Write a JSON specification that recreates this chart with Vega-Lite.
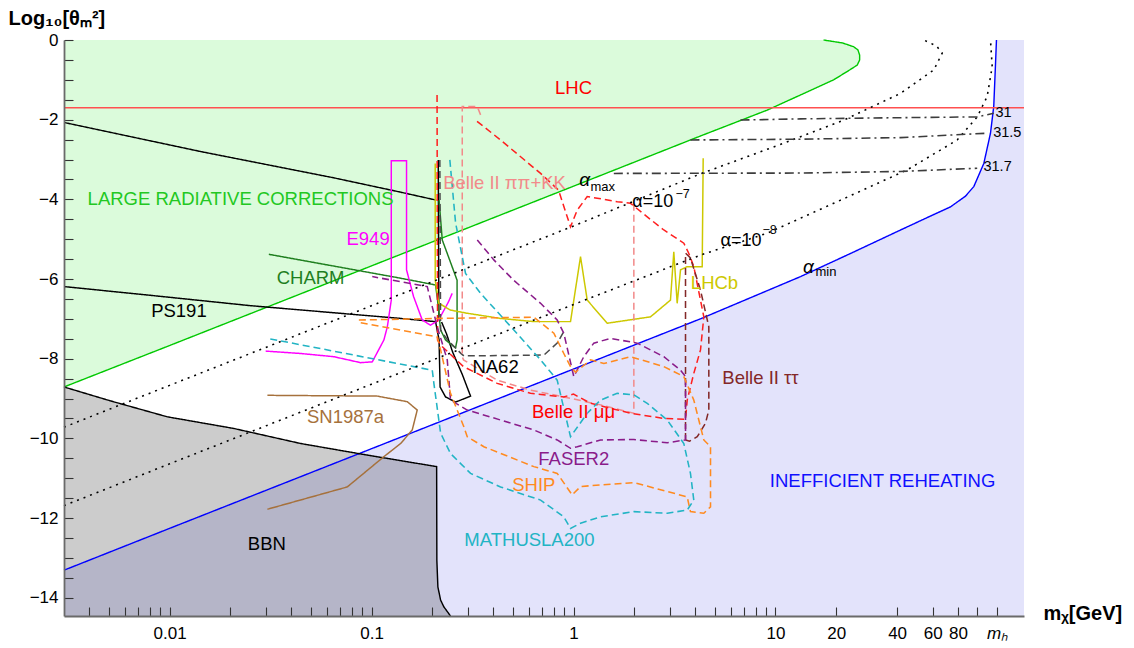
{
  "$schema": "https://vega.github.io/schema/vega-lite/v6.json",
  "width": 960,
  "height": 576,
  "autosize": "none",
  "padding": {"left": 64, "top": 40, "right": 110, "bottom": 32},
  "background": "white",
  "config": {
    "view": {"stroke": null},
    "axis": {
      "grid": false,
      "domainColor": "#6a6a6a",
      "domainWidth": 1.8,
      "tickColor": "#333333",
      "tickWidth": 1.1,
      "labelFont": "Liberation Sans",
      "labelFontSize": 17,
      "labelColor": "black",
      "titleFont": "Liberation Sans",
      "titleFontSize": 20,
      "titleFontWeight": "bold",
      "titleColor": "black"
    }
  },
  "datasets": {
    "curves": [
      {"s": "amax", "i": 0, "m": 0.003, "y": -8.71},
      {"s": "amax", "i": 1, "m": 0.01, "y": -7.67},
      {"s": "amax", "i": 2, "m": 0.1, "y": -5.67},
      {"s": "amax", "i": 3, "m": 1, "y": -3.67},
      {"s": "amax", "i": 4, "m": 4.25, "y": -2.41},
      {"s": "amax", "i": 5, "m": 9.1, "y": -1.76},
      {"s": "amax", "i": 6, "m": 13.3, "y": -1.38},
      {"s": "amax", "i": 7, "m": 19.4, "y": -1.0},
      {"s": "amax", "i": 8, "m": 23.0, "y": -0.77},
      {"s": "amax", "i": 9, "m": 25.4, "y": -0.63},
      {"s": "amax", "i": 10, "m": 26.1, "y": -0.5},
      {"s": "amax", "i": 11, "m": 26.1, "y": -0.38},
      {"s": "amax", "i": 12, "m": 25.6, "y": -0.25},
      {"s": "amax", "i": 13, "m": 24.4, "y": -0.17},
      {"s": "amax", "i": 14, "m": 21.5, "y": -0.075},
      {"s": "amax", "i": 15, "m": 17.3, "y": 0},

      {"s": "amin", "i": 0, "m": 0.003, "y": -13.31},
      {"s": "amin", "i": 1, "m": 0.01, "y": -12.26},
      {"s": "amin", "i": 2, "m": 0.1, "y": -10.26},
      {"s": "amin", "i": 3, "m": 1, "y": -8.26},
      {"s": "amin", "i": 4, "m": 4.25, "y": -7.0},
      {"s": "amin", "i": 5, "m": 13.3, "y": -5.94},
      {"s": "amin", "i": 6, "m": 23.5, "y": -5.36},
      {"s": "amin", "i": 7, "m": 41.6, "y": -4.77},
      {"s": "amin", "i": 8, "m": 58.5, "y": -4.42},
      {"s": "amin", "i": 9, "m": 73.5, "y": -4.19},
      {"s": "amin", "i": 10, "m": 87.2, "y": -3.92},
      {"s": "amin", "i": 11, "m": 95.9, "y": -3.68},
      {"s": "amin", "i": 12, "m": 107.5, "y": -3.1},
      {"s": "amin", "i": 13, "m": 116, "y": -2.34},
      {"s": "amin", "i": 14, "m": 120.4, "y": -1.67},
      {"s": "amin", "i": 15, "m": 122.7, "y": -0.67},
      {"s": "amin", "i": 16, "m": 124.2, "y": 0},
      {"s": "rh", "i": 0, "m": 170, "y": 0},

      {"s": "BBN", "i": 0, "m": 0.003, "y": -8.71},
      {"s": "BBN", "i": 1, "m": 0.0051, "y": -9.06},
      {"s": "BBN", "i": 2, "m": 0.00975, "y": -9.46},
      {"s": "BBN", "i": 3, "m": 0.0207, "y": -9.75},
      {"s": "BBN", "i": 4, "m": 0.0446, "y": -10.13},
      {"s": "BBN", "i": 5, "m": 0.0952, "y": -10.42},
      {"s": "BBN", "i": 6, "m": 0.21, "y": -10.71},
      {"s": "BBN", "i": 7, "m": 0.2105, "y": -13.06},
      {"s": "BBN", "i": 8, "m": 0.213, "y": -13.73},
      {"s": "BBN", "i": 9, "m": 0.2197, "y": -14.06},
      {"s": "BBN", "i": 10, "m": 0.228, "y": -14.23},
      {"s": "BBN", "i": 11, "m": 0.246, "y": -14.46},

      {"s": "LHC", "i": 0, "m": 0.003, "y": -1.7},
      {"s": "LHC", "i": 1, "m": 170, "y": -1.7},

      {"s": "blk", "i": 0, "m": 0.003, "y": -2.07},
      {"s": "blk", "i": 1, "m": 0.01423, "y": -2.8},
      {"s": "blk", "i": 2, "m": 0.065, "y": -3.46},
      {"s": "blk", "i": 3, "m": 0.1393, "y": -3.82},
      {"s": "blk", "i": 4, "m": 0.209, "y": -4.02},
      {"s": "blkV", "i": 0, "m": 0.2139, "y": -3.01},
      {"s": "blkV", "i": 1, "m": 0.2154, "y": -7.03},

      {"s": "PS191", "i": 0, "m": 0.003, "y": -6.19},
      {"s": "PS191", "i": 1, "m": 0.00805, "y": -6.41},
      {"s": "PS191", "i": 2, "m": 0.0252, "y": -6.67},
      {"s": "PS191", "i": 3, "m": 0.1393, "y": -6.99},
      {"s": "PS191", "i": 4, "m": 0.2074, "y": -7.07},
      {"s": "PS191", "i": 5, "m": 0.2159, "y": -7.53},
      {"s": "PS191", "i": 6, "m": 0.2184, "y": -8.71},
      {"s": "PS191", "i": 7, "m": 0.2324, "y": -8.96},
      {"s": "PS191", "i": 8, "m": 0.2606, "y": -9.09},
      {"s": "PS191", "i": 9, "m": 0.3091, "y": -8.94},
      {"s": "PS191", "i": 10, "m": 0.282, "y": -8.41},
      {"s": "PS191", "i": 11, "m": 0.2518, "y": -7.83},
      {"s": "PS191", "i": 12, "m": 0.2352, "y": -7.38},
      {"s": "PS191", "i": 13, "m": 0.2222, "y": -7.08},

      {"s": "CHARM", "i": 0, "m": 0.031, "y": -5.38},
      {"s": "CHARM", "i": 1, "m": 0.1393, "y": -5.98},
      {"s": "CHARM", "i": 2, "m": 0.2074, "y": -6.15},
      {"s": "CHARM", "i": 3, "m": 0.2122, "y": -6.53},
      {"s": "CHARM", "i": 4, "m": 0.2197, "y": -7.28},
      {"s": "CHARM", "i": 5, "m": 0.2324, "y": -7.53},
      {"s": "CHARM", "i": 6, "m": 0.2606, "y": -7.73},
      {"s": "CHARM", "i": 7, "m": 0.2651, "y": -7.53},
      {"s": "CHARM", "i": 8, "m": 0.2651, "y": -6.03},
      {"s": "CHARM", "i": 9, "m": 0.2239, "y": -5.02},
      {"s": "CHARM", "i": 10, "m": 0.2159, "y": -4.02},

      {"s": "E949", "i": 0, "m": 0.0299, "y": -7.81},
      {"s": "E949", "i": 1, "m": 0.0446, "y": -7.87},
      {"s": "E949", "i": 2, "m": 0.065, "y": -7.95},
      {"s": "E949", "i": 3, "m": 0.0882, "y": -8.1},
      {"s": "E949", "i": 4, "m": 0.1008, "y": -8.08},
      {"s": "E949", "i": 5, "m": 0.1151, "y": -7.53},
      {"s": "E949", "i": 6, "m": 0.1197, "y": -7.2},
      {"s": "E949", "i": 7, "m": 0.1252, "y": -6.53},
      {"s": "E949", "i": 8, "m": 0.1252, "y": -3.03},
      {"s": "E949", "i": 9, "m": 0.149, "y": -3.03},
      {"s": "E949", "i": 10, "m": 0.149, "y": -5.77},
      {"s": "E949", "i": 11, "m": 0.1614, "y": -6.44},
      {"s": "E949", "i": 12, "m": 0.1782, "y": -7.03},
      {"s": "E949", "i": 13, "m": 0.1959, "y": -7.16},
      {"s": "E949", "i": 14, "m": 0.2147, "y": -7.03},
      {"s": "E949", "i": 15, "m": 0.2406, "y": -6.57},
      {"s": "E949", "i": 16, "m": 0.2508, "y": -6.36},

      {"s": "SN1987a", "i": 0, "m": 0.0305, "y": -8.92},
      {"s": "SN1987a", "i": 1, "m": 0.1067, "y": -8.94},
      {"s": "SN1987a", "i": 2, "m": 0.1503, "y": -9.08},
      {"s": "SN1987a", "i": 3, "m": 0.1683, "y": -9.29},
      {"s": "SN1987a", "i": 4, "m": 0.159, "y": -9.79},
      {"s": "SN1987a", "i": 5, "m": 0.1393, "y": -10.13},
      {"s": "SN1987a", "i": 6, "m": 0.1151, "y": -10.46},
      {"s": "SN1987a", "i": 7, "m": 0.0758, "y": -11.22},
      {"s": "SN1987a", "i": 8, "m": 0.0305, "y": -11.78},

      {"s": "LHCb", "i": 0, "m": 0.2066, "y": -3.1},
      {"s": "LHCb", "i": 1, "m": 0.2066, "y": -6.03},
      {"s": "LHCb", "i": 2, "m": 0.2154, "y": -6.61},
      {"s": "LHCb", "i": 3, "m": 0.246, "y": -6.78},
      {"s": "LHCb", "i": 4, "m": 0.2977, "y": -6.86},
      {"s": "LHCb", "i": 5, "m": 0.435, "y": -6.99},
      {"s": "LHCb", "i": 6, "m": 0.636, "y": -7.07},
      {"s": "LHCb", "i": 7, "m": 0.966, "y": -7.07},
      {"s": "LHCb", "i": 8, "m": 1.083, "y": -5.44},
      {"s": "LHCb", "i": 9, "m": 1.169, "y": -6.53},
      {"s": "LHCb", "i": 10, "m": 1.468, "y": -7.11},
      {"s": "LHCb", "i": 11, "m": 2.405, "y": -6.95},
      {"s": "LHCb", "i": 12, "m": 3.02, "y": -6.53},
      {"s": "LHCb", "i": 13, "m": 3.137, "y": -5.32},
      {"s": "LHCb", "i": 14, "m": 3.26, "y": -6.61},
      {"s": "LHCb", "i": 15, "m": 3.387, "y": -5.77},
      {"s": "LHCb", "i": 16, "m": 3.655, "y": -5.69},
      {"s": "LHCb", "i": 17, "m": 4.336, "y": -5.69},
      {"s": "LHCb", "i": 18, "m": 4.385, "y": -2.97},

      {"s": "NA62", "i": 0, "m": 0.2178, "y": -3.01},
      {"s": "NA62", "i": 1, "m": 0.2197, "y": -7.28},
      {"s": "NA62", "i": 2, "m": 0.2378, "y": -7.53},
      {"s": "NA62", "i": 3, "m": 0.276, "y": -7.86},
      {"s": "NA62", "i": 4, "m": 0.2864, "y": -7.93},
      {"s": "NA62", "i": 5, "m": 0.713, "y": -7.91},
      {"s": "NA62", "i": 6, "m": 0.83, "y": -7.61},
      {"s": "NA62", "i": 7, "m": 0.895, "y": -7.32},

      {"s": "pipi", "i": 0, "m": 0.3466, "y": -1.88},
      {"s": "pipi", "i": 1, "m": 0.3337, "y": -1.67},
      {"s": "pipi", "i": 2, "m": 0.2812, "y": -1.67},
      {"s": "pipi", "i": 3, "m": 0.2812, "y": -7.95},
      {"s": "pipi", "i": 4, "m": 0.2853, "y": -8.03},
      {"s": "pipi", "i": 5, "m": 0.419, "y": -8.54},
      {"s": "pipi", "i": 6, "m": 0.6125, "y": -8.79},
      {"s": "pipi", "i": 7, "m": 0.895, "y": -8.96},
      {"s": "pipi", "i": 8, "m": 1.36, "y": -9.16},
      {"s": "pipi", "i": 9, "m": 1.989, "y": -9.37},
      {"s": "pipi", "i": 10, "m": 1.989, "y": -4.1},

      {"s": "mumu", "i": 0, "m": 0.211, "y": -1.38},
      {"s": "mumu", "i": 1, "m": 0.2122, "y": -7.53},
      {"s": "mumu", "i": 2, "m": 0.2197, "y": -7.66},
      {"s": "mumu", "i": 3, "m": 0.2853, "y": -8.2},
      {"s": "mumu", "i": 4, "m": 0.419, "y": -8.62},
      {"s": "mumu", "i": 5, "m": 0.6125, "y": -8.87},
      {"s": "mumu", "i": 6, "m": 0.895, "y": -8.96},
      {"s": "mumu", "i": 7, "m": 1.0, "y": -8.89},
      {"s": "mumu", "i": 8, "m": 1.214, "y": -9.12},
      {"s": "mumu", "i": 9, "m": 1.915, "y": -9.37},
      {"s": "mumu", "i": 10, "m": 2.8, "y": -9.5},
      {"s": "mumu", "i": 11, "m": 3.585, "y": -9.52},
      {"s": "mumu", "i": 12, "m": 3.655, "y": -9.04},
      {"s": "mumu", "i": 13, "m": 3.94, "y": -8.37},
      {"s": "mumu", "i": 14, "m": 4.253, "y": -7.78},
      {"s": "mumu", "i": 15, "m": 4.417, "y": -6.95},
      {"s": "mumu", "i": 16, "m": 3.94, "y": -5.69},
      {"s": "mumu", "i": 17, "m": 3.723, "y": -5.36},
      {"s": "mumu", "i": 18, "m": 3.516, "y": -5.1},
      {"s": "mumu", "i": 19, "m": 2.8, "y": -4.77},
      {"s": "mumu", "i": 20, "m": 2.317, "y": -4.44},
      {"s": "mumu", "i": 21, "m": 1.915, "y": -4.1},
      {"s": "mumu", "i": 22, "m": 1.646, "y": -4.06},
      {"s": "mumu", "i": 23, "m": 1.31, "y": -3.97},
      {"s": "mumu", "i": 24, "m": 1.169, "y": -3.93},
      {"s": "mumu", "i": 25, "m": 1.043, "y": -4.27},
      {"s": "mumu", "i": 26, "m": 0.966, "y": -4.69},
      {"s": "mumu", "i": 27, "m": 0.843, "y": -3.77},
      {"s": "mumu", "i": 28, "m": 0.687, "y": -3.35},
      {"s": "mumu", "i": 29, "m": 0.435, "y": -2.51},
      {"s": "mumu", "i": 30, "m": 0.327, "y": -2.01},

      {"s": "tautau", "i": 0, "m": 3.585, "y": -10.04},
      {"s": "tautau", "i": 1, "m": 3.585, "y": -5.35},
      {"s": "tautau", "i": 2, "m": 3.793, "y": -5.47},
      {"s": "tautau", "i": 3, "m": 4.253, "y": -6.28},
      {"s": "tautau", "i": 4, "m": 4.676, "y": -7.2},
      {"s": "tautau", "i": 5, "m": 4.676, "y": -9.29},
      {"s": "tautau", "i": 6, "m": 4.503, "y": -9.62},
      {"s": "tautau", "i": 7, "m": 4.097, "y": -9.96},
      {"s": "tautau", "i": 8, "m": 3.752, "y": -10.07},
      {"s": "tautau", "i": 9, "m": 3.585, "y": -10.04},

      {"s": "FASER2", "i": 0, "m": 0.3337, "y": -5.02},
      {"s": "FASER2", "i": 1, "m": 0.4031, "y": -5.52},
      {"s": "FASER2", "i": 2, "m": 0.5047, "y": -6.03},
      {"s": "FASER2", "i": 3, "m": 0.687, "y": -6.61},
      {"s": "FASER2", "i": 4, "m": 0.83, "y": -7.03},
      {"s": "FASER2", "i": 5, "m": 0.895, "y": -7.36},
      {"s": "FASER2", "i": 6, "m": 1.003, "y": -8.45},
      {"s": "FASER2", "i": 7, "m": 1.124, "y": -7.95},
      {"s": "FASER2", "i": 8, "m": 1.26, "y": -7.61},
      {"s": "FASER2", "i": 9, "m": 1.524, "y": -7.49},
      {"s": "FASER2", "i": 10, "m": 2.066, "y": -7.61},
      {"s": "FASER2", "i": 11, "m": 2.8, "y": -7.95},
      {"s": "FASER2", "i": 12, "m": 3.387, "y": -8.29},
      {"s": "FASER2", "i": 13, "m": 3.585, "y": -8.45},
      {"s": "FASER2", "i": 14, "m": 3.585, "y": -10.04},
      {"s": "FASER2", "i": 15, "m": 2.911, "y": -10.11},
      {"s": "FASER2", "i": 16, "m": 1.989, "y": -10.03},
      {"s": "FASER2", "i": 17, "m": 1.36, "y": -10.04},
      {"s": "FASER2", "i": 18, "m": 1.043, "y": -10.21},
      {"s": "FASER2", "i": 19, "m": 0.966, "y": -10.25},
      {"s": "FASER2", "i": 20, "m": 0.83, "y": -10.04},
      {"s": "FASER2", "i": 21, "m": 0.636, "y": -9.79},
      {"s": "FASER2", "i": 22, "m": 0.435, "y": -9.54},
      {"s": "FASER2", "i": 23, "m": 0.2977, "y": -9.29},
      {"s": "FASER2", "i": 24, "m": 0.246, "y": -9.04},
      {"s": "FASER2", "i": 25, "m": 0.237, "y": -8.03},
      {"s": "FASER2", "i": 26, "m": 0.2114, "y": -7.2},
      {"s": "FASER2", "i": 27, "m": 0.1998, "y": -6.7},
      {"s": "FASER2", "i": 28, "m": 0.1887, "y": -6.19},
      {"s": "FASER2", "i": 29, "m": 0.1008, "y": -5.94},

      {"s": "SHIP", "i": 0, "m": 0.0865, "y": -7.03},
      {"s": "SHIP", "i": 1, "m": 0.2114, "y": -6.99},
      {"s": "SHIP", "i": 2, "m": 0.636, "y": -6.96},
      {"s": "SHIP", "i": 3, "m": 0.799, "y": -7.36},
      {"s": "SHIP", "i": 4, "m": 0.895, "y": -7.87},
      {"s": "SHIP", "i": 5, "m": 0.966, "y": -8.2},
      {"s": "SHIP", "i": 6, "m": 1.023, "y": -8.34},
      {"s": "SHIP", "i": 7, "m": 1.214, "y": -8.03},
      {"s": "SHIP", "i": 8, "m": 1.413, "y": -8.12},
      {"s": "SHIP", "i": 9, "m": 1.915, "y": -7.95},
      {"s": "SHIP", "i": 10, "m": 2.8, "y": -8.2},
      {"s": "SHIP", "i": 11, "m": 3.516, "y": -8.45},
      {"s": "SHIP", "i": 12, "m": 3.94, "y": -9.04},
      {"s": "SHIP", "i": 13, "m": 4.417, "y": -10.04},
      {"s": "SHIP", "i": 14, "m": 4.767, "y": -10.21},
      {"s": "SHIP", "i": 15, "m": 4.767, "y": -11.72},
      {"s": "SHIP", "i": 16, "m": 4.417, "y": -11.88},
      {"s": "SHIP", "i": 17, "m": 3.793, "y": -11.84},
      {"s": "SHIP", "i": 18, "m": 3.655, "y": -11.47},
      {"s": "SHIP", "i": 19, "m": 1.989, "y": -11.11},
      {"s": "SHIP", "i": 20, "m": 1.36, "y": -11.17},
      {"s": "SHIP", "i": 21, "m": 1.083, "y": -11.21},
      {"s": "SHIP", "i": 22, "m": 0.985, "y": -11.42},
      {"s": "SHIP", "i": 23, "m": 0.83, "y": -10.88},
      {"s": "SHIP", "i": 24, "m": 0.636, "y": -10.71},
      {"s": "SHIP", "i": 25, "m": 0.3597, "y": -10.21},
      {"s": "SHIP", "i": 26, "m": 0.2977, "y": -9.96},
      {"s": "SHIP", "i": 27, "m": 0.2864, "y": -9.71},
      {"s": "SHIP", "i": 28, "m": 0.246, "y": -8.87},
      {"s": "SHIP", "i": 29, "m": 0.2197, "y": -7.78},
      {"s": "SHIP", "i": 30, "m": 0.2114, "y": -7.45},
      {"s": "SHIP", "i": 31, "m": 0.0882, "y": -7.1},

      {"s": "MATHUSLA", "i": 0, "m": 0.2441, "y": -3.01},
      {"s": "MATHUSLA", "i": 1, "m": 0.2606, "y": -4.59},
      {"s": "MATHUSLA", "i": 2, "m": 0.2919, "y": -5.86},
      {"s": "MATHUSLA", "i": 3, "m": 0.3466, "y": -6.36},
      {"s": "MATHUSLA", "i": 4, "m": 0.5063, "y": -7.28},
      {"s": "MATHUSLA", "i": 5, "m": 0.687, "y": -8.03},
      {"s": "MATHUSLA", "i": 6, "m": 0.83, "y": -8.54},
      {"s": "MATHUSLA", "i": 7, "m": 0.966, "y": -9.96},
      {"s": "MATHUSLA", "i": 8, "m": 1.169, "y": -9.37},
      {"s": "MATHUSLA", "i": 9, "m": 1.36, "y": -9.04},
      {"s": "MATHUSLA", "i": 10, "m": 1.646, "y": -8.87},
      {"s": "MATHUSLA", "i": 11, "m": 1.989, "y": -8.91},
      {"s": "MATHUSLA", "i": 12, "m": 2.317, "y": -9.12},
      {"s": "MATHUSLA", "i": 13, "m": 2.91, "y": -9.54},
      {"s": "MATHUSLA", "i": 14, "m": 3.516, "y": -10.13},
      {"s": "MATHUSLA", "i": 15, "m": 3.793, "y": -10.88},
      {"s": "MATHUSLA", "i": 16, "m": 3.94, "y": -11.55},
      {"s": "MATHUSLA", "i": 17, "m": 3.655, "y": -11.8},
      {"s": "MATHUSLA", "i": 18, "m": 2.91, "y": -11.88},
      {"s": "MATHUSLA", "i": 19, "m": 1.989, "y": -11.84},
      {"s": "MATHUSLA", "i": 20, "m": 1.36, "y": -11.97},
      {"s": "MATHUSLA", "i": 21, "m": 1.083, "y": -12.13},
      {"s": "MATHUSLA", "i": 22, "m": 0.966, "y": -12.26},
      {"s": "MATHUSLA", "i": 23, "m": 0.895, "y": -11.97},
      {"s": "MATHUSLA", "i": 24, "m": 0.687, "y": -11.55},
      {"s": "MATHUSLA", "i": 25, "m": 0.435, "y": -11.22},
      {"s": "MATHUSLA", "i": 26, "m": 0.3091, "y": -10.88},
      {"s": "MATHUSLA", "i": 27, "m": 0.246, "y": -10.38},
      {"s": "MATHUSLA", "i": 28, "m": 0.2197, "y": -9.87},
      {"s": "MATHUSLA", "i": 29, "m": 0.2035, "y": -8.62},
      {"s": "MATHUSLA", "i": 30, "m": 0.1998, "y": -8.29},
      {"s": "MATHUSLA", "i": 31, "m": 0.0305, "y": -7.49},

      {"s": "a7", "i": 0, "m": 0.003, "y": -9.72},
      {"s": "a7", "i": 1, "m": 0.01, "y": -8.67},
      {"s": "a7", "i": 2, "m": 0.1, "y": -6.67},
      {"s": "a7", "i": 3, "m": 1, "y": -4.67},
      {"s": "a7", "i": 4, "m": 4.25, "y": -3.36},
      {"s": "a7", "i": 5, "m": 11.0, "y": -2.59},
      {"s": "a7", "i": 6, "m": 21.8, "y": -2.01},
      {"s": "a7", "i": 7, "m": 41.6, "y": -1.34},
      {"s": "a7", "i": 8, "m": 60.8, "y": -0.75},
      {"s": "a7", "i": 9, "m": 66.9, "y": -0.33},
      {"s": "a7", "i": 10, "m": 62.7, "y": -0.15},
      {"s": "a7", "i": 11, "m": 54.2, "y": 0},

      {"s": "a8", "i": 0, "m": 0.003, "y": -11.69},
      {"s": "a8", "i": 1, "m": 0.01, "y": -10.64},
      {"s": "a8", "i": 2, "m": 0.1, "y": -8.64},
      {"s": "a8", "i": 3, "m": 1, "y": -6.64},
      {"s": "a8", "i": 4, "m": 4.25, "y": -5.4},
      {"s": "a8", "i": 5, "m": 9.1, "y": -4.85},
      {"s": "a8", "i": 6, "m": 19.4, "y": -4.1},
      {"s": "a8", "i": 7, "m": 44.9, "y": -3.26},
      {"s": "a8", "i": 8, "m": 79.4, "y": -2.51},
      {"s": "a8", "i": 9, "m": 99.7, "y": -1.93},
      {"s": "a8", "i": 10, "m": 111.7, "y": -1.42},
      {"s": "a8", "i": 11, "m": 118.3, "y": -0.67},
      {"s": "a8", "i": 12, "m": 116, "y": 0},

      {"s": "d31", "i": 0, "m": 6.71, "y": -2.01},
      {"s": "d31", "i": 1, "m": 13.3, "y": -1.98},
      {"s": "d31", "i": 2, "m": 41.6, "y": -1.95},
      {"s": "d31", "i": 3, "m": 99.7, "y": -1.93},
      {"s": "d31", "i": 4, "m": 120.4, "y": -1.84},
      {"s": "d315", "i": 0, "m": 3.793, "y": -2.51},
      {"s": "d315", "i": 1, "m": 13.3, "y": -2.49},
      {"s": "d315", "i": 2, "m": 41.6, "y": -2.45},
      {"s": "d315", "i": 3, "m": 111.7, "y": -2.34},
      {"s": "d317", "i": 0, "m": 1.583, "y": -3.35},
      {"s": "d317", "i": 1, "m": 13.3, "y": -3.34},
      {"s": "d317", "i": 2, "m": 41.6, "y": -3.3},
      {"s": "d317", "i": 3, "m": 99.7, "y": -3.22}
    ],
    "labels": [
      {"k": "big", "s": "red", "t": "LHC", "m": 1, "y": -1.21},
      {"k": "big", "s": "green", "t": "LARGE RADIATIVE CORRECTIONS", "m": 0.02246, "y": -3.99},
      {"k": "big", "s": "E949", "t": "E949", "m": 0.0961, "y": -5.0},
      {"k": "big", "s": "CHARM", "t": "CHARM", "m": 0.0499, "y": -5.98},
      {"k": "big", "s": "k", "t": "PS191", "m": 0.01112, "y": -6.8},
      {"k": "big", "s": "pipi", "t": "Belle II ππ+KK", "m": 0.4553, "y": -3.6},
      {"k": "big", "s": "LHCb", "t": "LHCb", "m": 4.99, "y": -6.11},
      {"k": "big", "s": "k", "t": "NA62", "m": 0.411, "y": -8.2},
      {"k": "big", "s": "tautau", "t": "Belle II ττ", "m": 8.43, "y": -8.49},
      {"k": "big", "s": "red", "t": "Belle II μμ", "m": 1, "y": -9.33},
      {"k": "big", "s": "FASER2", "t": "FASER2", "m": 1.003, "y": -10.53},
      {"k": "big", "s": "SHIP", "t": "SHIP", "m": 0.636, "y": -11.17},
      {"k": "big", "s": "MATHUSLA", "t": "MATHUSLA200", "m": 0.605, "y": -12.54},
      {"k": "big", "s": "SN1987a", "t": "SN1987a", "m": 0.0743, "y": -9.47},
      {"k": "big", "s": "k", "t": "BBN", "m": 0.0303, "y": -12.65},
      {"k": "big", "s": "blue", "t": "INEFFICIENT REHEATING", "m": 33.9, "y": -11.06},
      {"k": "alpha", "s": "k", "t": "α", "m": 1.134, "y": -3.51},
      {"k": "alpha", "s": "k", "t": "α", "m": 14.57, "y": -5.69},
      {"k": "sub", "s": "k", "t": "max", "m": 1.214, "y": -3.69},
      {"k": "sub", "s": "k", "t": "min", "m": 15.78, "y": -5.82},
      {"k": "eq", "s": "k", "t": "α=10", "m": 1.953, "y": -4.06},
      {"k": "eq", "s": "k", "t": "α=10", "m": 5.343, "y": -5.05},
      {"k": "sup", "s": "k", "t": "−7", "m": 3.199, "y": -3.87},
      {"k": "sup", "s": "k", "t": "−8", "m": 8.62, "y": -4.77},
      {"k": "num", "s": "k", "t": "31", "m": 122.7, "y": -1.84},
      {"k": "num", "s": "k", "t": "31.5", "m": 119.6, "y": -2.33},
      {"k": "num", "s": "k", "t": "31.7", "m": 107.1, "y": -3.19}
    ]
  },
  "encoding": {
    "x": {
      "field": "m",
      "type": "quantitative",
      "scale": {"type": "log", "domain": [0.003, 170], "nice": false},
      "axis": {
        "zindex": 2,
        "values": [0.004, 0.005, 0.006, 0.007, 0.008, 0.009, 0.01, 0.02, 0.03, 0.04, 0.05, 0.06, 0.07, 0.08, 0.09, 0.1, 0.2, 0.3, 0.4, 0.5, 0.6, 0.7, 0.8, 0.9, 1, 2, 3, 4, 5, 6, 7, 8, 9, 10, 20, 40, 60, 80, 100, 125],
        "format": "~g",
        "labelExpr": "datum.value == 125 ? 'mₕ' : (indexof([0.01, 0.1, 1, 10, 20, 40, 60, 80], datum.value) >= 0 ? datum.label : '')",
        "labelFontStyle": {"condition": {"test": "datum.value == 125", "value": "italic"}, "value": "normal"},
        "labelOverlap": false,
        "labelFlush": false,
        "ticks": true,
        "tickSize": -9,
        "labelPadding": 18,
        "title": "mᵪ[GeV]",
        "titleX": 979,
        "titleY": -3,
        "titleAlign": "left",
        "titleBaseline": "middle"
      }
    },
    "y": {
      "field": "y",
      "type": "quantitative",
      "scale": {"domain": [-14.46, 0], "nice": false, "zero": false},
      "axis": {
        "zindex": 2,
        "values": [-14, -13.5, -13, -12.5, -12, -11.5, -11, -10.5, -10, -9.5, -9, -8.5, -8, -7.5, -7, -6.5, -6, -5.5, -5, -4.5, -4, -3.5, -3, -2.5, -2, -1.5, -1, -0.5, 0],
        "format": "~g",
        "labelExpr": "datum.value % 2 == 0 ? datum.label : ''",
        "ticks": true,
        "tickSize": -9,
        "labelPadding": 15,
        "title": "Log₁₀[θₘ²]",
        "titleAngle": 0,
        "titleX": -56,
        "titleY": -22,
        "titleAlign": "left",
        "titleBaseline": "middle"
      }
    }
  },
  "layer": [
    {
      "data": {"name": "curves"},
      "transform": [{"filter": "datum.s == 'amax'"}],
      "mark": {"type": "area", "orient": "horizontal", "color": "#dbfbdb"},
      "encoding": {"x2": {"datum": 0.003}}
    },
    {
      "data": {"name": "curves"},
      "transform": [{"filter": "datum.s == 'amin' || datum.s == 'rh'"}],
      "mark": {"type": "area", "color": "#e3e3fb"},
      "encoding": {"y2": {"datum": -14.46}}
    },
    {
      "data": {"name": "curves"},
      "transform": [{"filter": "datum.s == 'BBN'"}],
      "mark": {"type": "area", "color": "black", "opacity": 0.2},
      "encoding": {"y2": {"datum": -14.46}}
    },
    {
      "data": {"name": "curves"},
      "transform": [{"filter": "datum.s != 'rh'"}],
      "mark": {"type": "line", "strokeCap": "butt"},
      "encoding": {
        "order": {"field": "i", "type": "quantitative"},
        "color": {
          "field": "s", "type": "nominal", "legend": null,
          "scale": {
            "domain": ["amax", "amin", "LHC", "BBN", "blk", "blkV", "PS191", "CHARM", "E949", "SN1987a", "LHCb", "NA62", "pipi", "mumu", "tautau", "FASER2", "SHIP", "MATHUSLA", "a7", "a8", "d31", "d315", "d317", "red", "green", "blue", "k"],
            "range": ["#00c800", "#0000ff", "#ff5050", "#000000", "#000000", "#000000", "#000000", "#1f7f1f", "#ff00ff", "#a6713c", "#cdc800", "#4a4a4a", "#f28a8a", "#ff1f1f", "#832828", "#8a1c8a", "#ff8a1f", "#22b4c4", "#000000", "#000000", "#3c3c3c", "#3c3c3c", "#3c3c3c", "#ff0000", "#22c822", "#1010ff", "#000000"]
          }
        },
        "strokeDash": {
          "field": "s", "type": "nominal", "legend": null,
          "scale": {
            "domain": ["amax", "amin", "LHC", "BBN", "blk", "blkV", "PS191", "CHARM", "E949", "SN1987a", "LHCb", "NA62", "pipi", "mumu", "tautau", "FASER2", "SHIP", "MATHUSLA", "a7", "a8", "d31", "d315", "d317"],
            "range": [[1, 0], [1, 0], [1, 0], [1, 0], [1, 0], [1, 0], [1, 0], [1, 0], [1, 0], [1, 0], [1, 0], [7, 4], [7, 4], [7, 4], [7, 4], [7, 4], [7, 4], [7, 4], [2, 5], [2, 5], [9, 4, 2, 4], [9, 4, 2, 4], [9, 4, 2, 4]]
          }
        },
        "strokeWidth": {
          "field": "s", "type": "ordinal", "legend": null,
          "scale": {
            "domain": ["amax", "amin", "LHC", "BBN", "blk", "blkV", "PS191", "CHARM", "E949", "SN1987a", "LHCb", "NA62", "pipi", "mumu", "tautau", "FASER2", "SHIP", "MATHUSLA", "a7", "a8", "d31", "d315", "d317"],
            "range": [1.4, 1.6, 1.3, 1, 1.1, 1.1, 1.1, 1.1, 1.1, 1.1, 1.1, 1.3, 1.2, 1.2, 1.2, 1.2, 1.2, 1.2, 1.5, 1.5, 1.2, 1.2, 1.2]
          }
        }
      }
    },
    {
      "data": {"name": "labels"},
      "transform": [{"filter": "datum.k == 'big'"}],
      "mark": {"type": "text", "font": "Liberation Sans", "fontSize": 18.5},
      "encoding": {
        "text": {"field": "t"},
        "color": {
          "field": "s", "type": "nominal", "legend": null,
          "scale": {
            "domain": ["amax", "amin", "LHC", "BBN", "blk", "blkV", "PS191", "CHARM", "E949", "SN1987a", "LHCb", "NA62", "pipi", "mumu", "tautau", "FASER2", "SHIP", "MATHUSLA", "a7", "a8", "d31", "d315", "d317", "red", "green", "blue", "k"],
            "range": ["#00c800", "#0000ff", "#ff5050", "#000000", "#000000", "#000000", "#000000", "#1f7f1f", "#ff00ff", "#a6713c", "#cdc800", "#4a4a4a", "#f28a8a", "#ff1f1f", "#832828", "#8a1c8a", "#ff8a1f", "#22b4c4", "#000000", "#000000", "#3c3c3c", "#3c3c3c", "#3c3c3c", "#ff0000", "#22c822", "#1010ff", "#000000"]
          }
        }
      }
    },
    {
      "data": {"name": "labels"},
      "transform": [{"filter": "datum.k == 'alpha'"}],
      "mark": {"type": "text", "font": "Liberation Sans", "fontSize": 19, "fontStyle": "italic", "color": "black"},
      "encoding": {"text": {"field": "t"}}
    },
    {
      "data": {"name": "labels"},
      "transform": [{"filter": "datum.k == 'sub'"}],
      "mark": {"type": "text", "font": "Liberation Sans", "fontSize": 13, "align": "left", "color": "black"},
      "encoding": {"text": {"field": "t"}}
    },
    {
      "data": {"name": "labels"},
      "transform": [{"filter": "datum.k == 'eq'"}],
      "mark": {"type": "text", "font": "Liberation Sans", "fontSize": 18, "align": "left", "color": "black"},
      "encoding": {"text": {"field": "t"}}
    },
    {
      "data": {"name": "labels"},
      "transform": [{"filter": "datum.k == 'sup'"}],
      "mark": {"type": "text", "font": "Liberation Sans", "fontSize": 12.5, "align": "left", "color": "black"},
      "encoding": {"text": {"field": "t"}}
    },
    {
      "data": {"name": "labels"},
      "transform": [{"filter": "datum.k == 'num'"}],
      "mark": {"type": "text", "font": "Liberation Sans", "fontSize": 14.5, "align": "left", "color": "black"},
      "encoding": {"text": {"field": "t"}}
    }
  ]
}
